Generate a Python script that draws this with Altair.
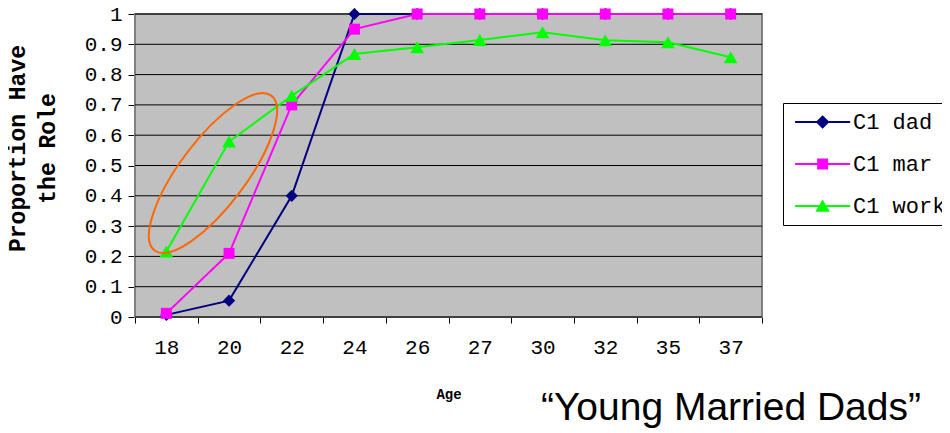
import altair as alt
import pandas as pd

ages = ["18", "20", "22", "24", "26", "27", "30", "32", "35", "37"]
dad = [0.007, 0.054, 0.40, 1.0, 1.0, 1.0, 1.0, 1.0, 1.0, 1.0]
mar = [0.012, 0.21, 0.70, 0.95, 1.0, 1.0, 1.0, 1.0, 1.0, 1.0]
work = [0.216, 0.579, 0.73, 0.868, 0.89, 0.914, 0.94, 0.913, 0.907, 0.857]

series_names = ["C1 dad", "C1 mar", "C1 work"]
series_colors = ["#000080", "#FF00FF", "#00FF00"]
series_shapes = ["diamond", "square", "triangle-up"]
# legend symbols (all filled): thin bar with a marker in the middle
legend_paths = [
    "M-1,-0.15L7,-0.15L7,0.15L-1,0.15ZM3,-1L4,0L3,1L2,0Z",
    "M-1,-0.15L7,-0.15L7,0.15L-1,0.15ZM2.2,-0.8L3.8,-0.8L3.8,0.8L2.2,0.8Z",
    "M-1,-0.15L7,-0.15L7,0.15L-1,0.15ZM3,-0.95L4.05,0.85L1.95,0.85Z",
]

y_ticks = [i / 10 for i in range(11)]

ellipse_age = ["20"]
ellipse_band = 0.244
ellipse_y = [0.475]

rows = []
for name, vals in zip(series_names, [dad, mar, work]):
    for a, v in zip(ages, vals):
        rows.append({"Age": a, "value": v, "series": name})
df = pd.DataFrame(rows)

mono = "Liberation Mono"

xaxis = alt.Axis(
    title="Age", labelAngle=0, tickBand="extent", domainColor="black", tickColor="black",
    tickSize=6, labelFont=mono, labelFontSize=21, labelColor="black", labelPadding=13,
    titleFont=mono, titleFontSize=14, titleFontWeight="bold", titleColor="black",
    titlePadding=30, grid=False,
)
xscale = alt.Scale(domain=ages, paddingInner=0, paddingOuter=0)
xenc = alt.X("Age:N", sort=ages, scale=xscale, axis=xaxis)

yaxis = alt.Axis(
    title=["Proportion Have", "the Role"], values=y_ticks, format=".1~f",
    domainColor="black", tickColor="black", tickSize=7, labelFont=mono, labelFontSize=21,
    labelColor="black", labelPadding=6, grid=False, titleFont=mono,
    titleFontSize=23, titleFontWeight="bold", titleColor="black", titleLineHeight=30,
    titleY=134, titlePadding=25,
)
yscale = alt.Scale(domain=[0, 1], nice=False)
yenc = alt.Y("value:Q", scale=yscale, axis=yaxis)

# plot background panel
bg = alt.Chart(pd.DataFrame({"k": [0]})).mark_rect(
    fill="#C0C0C0", stroke="#808080", strokeWidth=2
).encode(x=alt.value(0), x2=alt.value("width"), y=alt.value(0), y2=alt.value("height"))

# horizontal gridlines at the tick values
grid = alt.Chart(pd.DataFrame({"value": y_ticks})).mark_rule(color="black", strokeWidth=1).encode(
    y=yenc, x=alt.value(0), x2=alt.value("width")
)

layers = [bg, grid]
for name, col in zip(series_names, series_colors):
    layers.append(
        alt.Chart(df)
        .transform_filter(alt.datum.series == name)
        .mark_line(strokeWidth=2, color=col)
        .encode(x=xenc, y=yenc)
    )
for name, col, shp, sz in zip(series_names, series_colors, series_shapes, [150, 121, 190]):
    layers.append(
        alt.Chart(df)
        .transform_filter(alt.datum.series == name)
        .mark_point(filled=True, shape=shp, size=sz, opacity=1, color=col)
        .encode(x=xenc, y=yenc)
    )

legend_layer = (
    alt.Chart(df)
    .mark_point(filled=True, size=0, opacity=1)
    .encode(
        x=xenc,
        y=yenc,
        color=alt.Color(
            "series:N",
            scale=alt.Scale(domain=series_names, range=series_colors),
            legend=alt.Legend(
                title="", orient="none", legendX=648, legendY=89, padding=8,
                rowPadding=20, symbolSize=189, symbolOpacity=1, labelOffset=40,
                labelFont=mono, labelFontSize=22, labelColor="black", labelLimit=300,
                strokeColor="black", fillColor="white", cornerRadius=0,
            ),
        ),
        shape=alt.Shape("series:N", scale=alt.Scale(domain=series_names, range=legend_paths)),
    )
)
layers.append(legend_layer)

ell_df = pd.DataFrame({"ex": ellipse_age, "ey": ellipse_y})
ellipse = alt.Chart(ell_df).mark_point(
    shape="M-1,0A1,0.34,0,1,1,1,0A1,0.34,0,1,1,-1,0Z",
    size=37636, angle=307, filled=False, color="#FF6600", strokeWidth=2, opacity=1,
).encode(
    x=alt.X("ex:N", sort=ages, scale=xscale, axis=xaxis, bandPosition=ellipse_band),
    y=alt.Y("ey:Q", scale=yscale, axis=yaxis),
)
layers.append(ellipse)

chart = (
    alt.layer(*layers)
    .properties(
        width=627, height=303,
        autosize=alt.AutoSizeParams(type="none"),
        padding={"left": 127, "top": 6, "right": 180, "bottom": 115},
        title=alt.TitleParams(
            "\u201cYoung Married Dads\u201d", orient="bottom", anchor="end", frame="group",
            font="Liberation Sans", fontSize=39, fontWeight="normal", color="black",
            baseline="top", dx=159, dy=-12, offset=0,
        ),
    )
    .configure_view(fill="#C0C0C0", stroke="#808080", strokeWidth=2)
    .configure(background="white")
)

chart.save("out.html", embed_options={"renderer": "svg", "actions": False})
